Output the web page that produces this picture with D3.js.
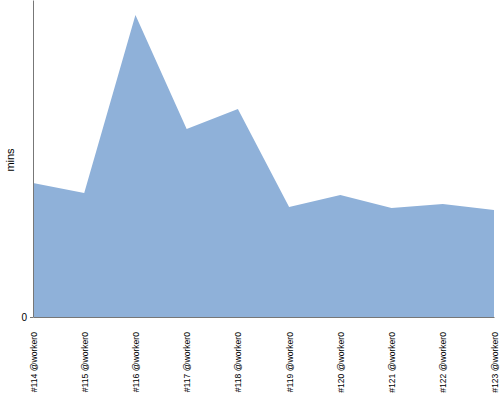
<!DOCTYPE html>
<html>
<head>
<meta charset="utf-8">
<script src="https://cdn.jsdelivr.net/npm/d3@7"></script>
<style>
body{margin:0;background:#fff;}
svg{display:block;font-family:"Liberation Sans",Arial,sans-serif;}
</style>
</head>
<body>
<svg id="chart" width="500" height="400"></svg>
<script>
const categories = ["#114 @worker0","#115 @worker0","#116 @worker0","#117 @worker0","#118 @worker0","#119 @worker0","#120 @worker0","#121 @worker0","#122 @worker0","#123 @worker0"];
const values = [13.4, 12.4, 30.2, 18.8, 20.8, 11.0, 12.2, 10.9, 11.3, 10.7];
const yMax = 31.7;
const yTicks = [0];

(function(){
const svg = d3.select("#chart");
const mLeft = 33, mRight = 494, mTop = 0, mBottom = 317;

const x = d3.scalePoint().domain(categories).range([mLeft, mRight]);
const y = d3.scaleLinear().domain([0, yMax]).range([mBottom, mTop]);

const area = d3.area()
  .x(d => x(d.c))
  .y0(y(0))
  .y1(d => y(d.v));

const data = categories.map((c, i) => ({c, v: values[i]}));

svg.append("path")
  .datum(data)
  .attr("d", area)
  .attr("fill", "#8fb1d9");

const yAxis = svg.append("g")
  .attr("transform", `translate(${mLeft},0)`)
  .call(d3.axisLeft(y).tickValues(yTicks).tickSize(3).tickSizeOuter(0).tickFormat(d3.format("d")));
yAxis.select(".domain").attr("stroke", "#777");
yAxis.selectAll(".tick line").attr("stroke", "#777");
yAxis.selectAll(".tick text").attr("font-size", 10).attr("fill", "#000").attr("font-family", "Liberation Sans, Arial, sans-serif");

const xAxis = svg.append("g")
  .attr("transform", `translate(0,${mBottom})`)
  .call(d3.axisBottom(x).tickSize(0).tickSizeOuter(0));
xAxis.select(".domain").attr("stroke", "#777");
xAxis.selectAll(".tick text")
  .attr("font-size", 8.6)
  .attr("fill", "#000")
  .attr("font-family", "Liberation Sans, Arial, sans-serif")
  .attr("text-anchor", "end")
  .attr("transform", "rotate(-90)")
  .attr("x", -15)
  .attr("y", 0)
  .attr("dy", "0.35em");

svg.append("text")
  .attr("transform", "translate(14,160) rotate(-90)")
  .attr("text-anchor", "middle")
  .attr("font-size", 11)
  .attr("fill", "#000")
  .text("mins");
})();
</script>
</body>
</html>
